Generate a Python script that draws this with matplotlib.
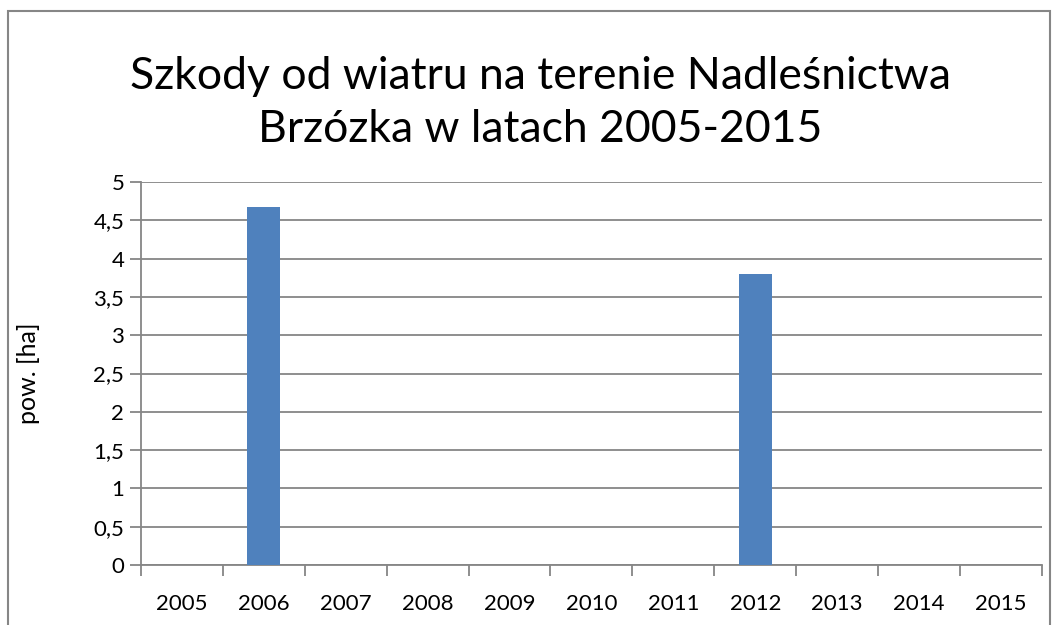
import matplotlib.pyplot as plt
import numpy as np
from matplotlib.patches import Rectangle

plt.rcParams['font.family'] = ['Lato', 'DejaVu Sans']

# data
years = ['2005', '2006', '2007', '2008', '2009', '2010',
         '2011', '2012', '2013', '2014', '2015']
damage_ha = [0, 4.67, 0, 0, 0, 0, 0, 3.8, 0, 0, 0]
y_ticks = [0, 0.5, 1, 1.5, 2, 2.5, 3, 3.5, 4, 4.5, 5]

grey = '#868686'

fig = plt.figure(figsize=(10.59, 6.25), dpi=100)
ax = fig.add_axes([0.1331, 0.096, 0.8508, 0.6128])

x = np.arange(len(years))
ax.bar(x, damage_ha, width=0.4, color='#4F81BD', zorder=3)

ax.set_xlim(-0.5, len(years) - 0.5)
ax.set_ylim(0, 5)
ax.set_yticks(y_ticks)
ax.set_yticklabels([f'{v:g}'.replace('.', ',') for v in y_ticks])
ax.set_xticks(x)
ax.set_xticklabels(years)
ax.set_xticks(np.arange(-0.5, len(years)), minor=True)
ax.tick_params(axis='x', which='major', length=0, pad=21, labelsize=16)
ax.tick_params(axis='x', which='minor', length=8, color=grey, width=1.3)
ax.tick_params(axis='y', length=8, color=grey, width=1.3, labelsize=16, pad=4)

ax.grid(axis='y', color=grey, linewidth=1.3, zorder=0)
for s in ['top', 'right']:
    ax.spines[s].set_visible(False)
for s in ['left', 'bottom']:
    ax.spines[s].set_color(grey)
    ax.spines[s].set_linewidth(1.3)

ax.set_ylabel('pow. [ha]', fontsize=18)
ax.yaxis.set_label_coords(-0.112, 0.5)

fig.text(0.51, 0.835, 'Szkody od wiatru na terenie Nadleśnictwa\nBrzózka w latach 2005-2015',
         ha='center', va='center', fontsize=32, linespacing=1.35)

# outer chart frame
fig.patches.append(Rectangle((8 / 1059, -0.1), 1042 / 1059, 1.1 - 11 / 625,
                             transform=fig.transFigure, fill=False,
                             edgecolor=grey, linewidth=1.5))

fig.savefig('out.png', dpi=100)
